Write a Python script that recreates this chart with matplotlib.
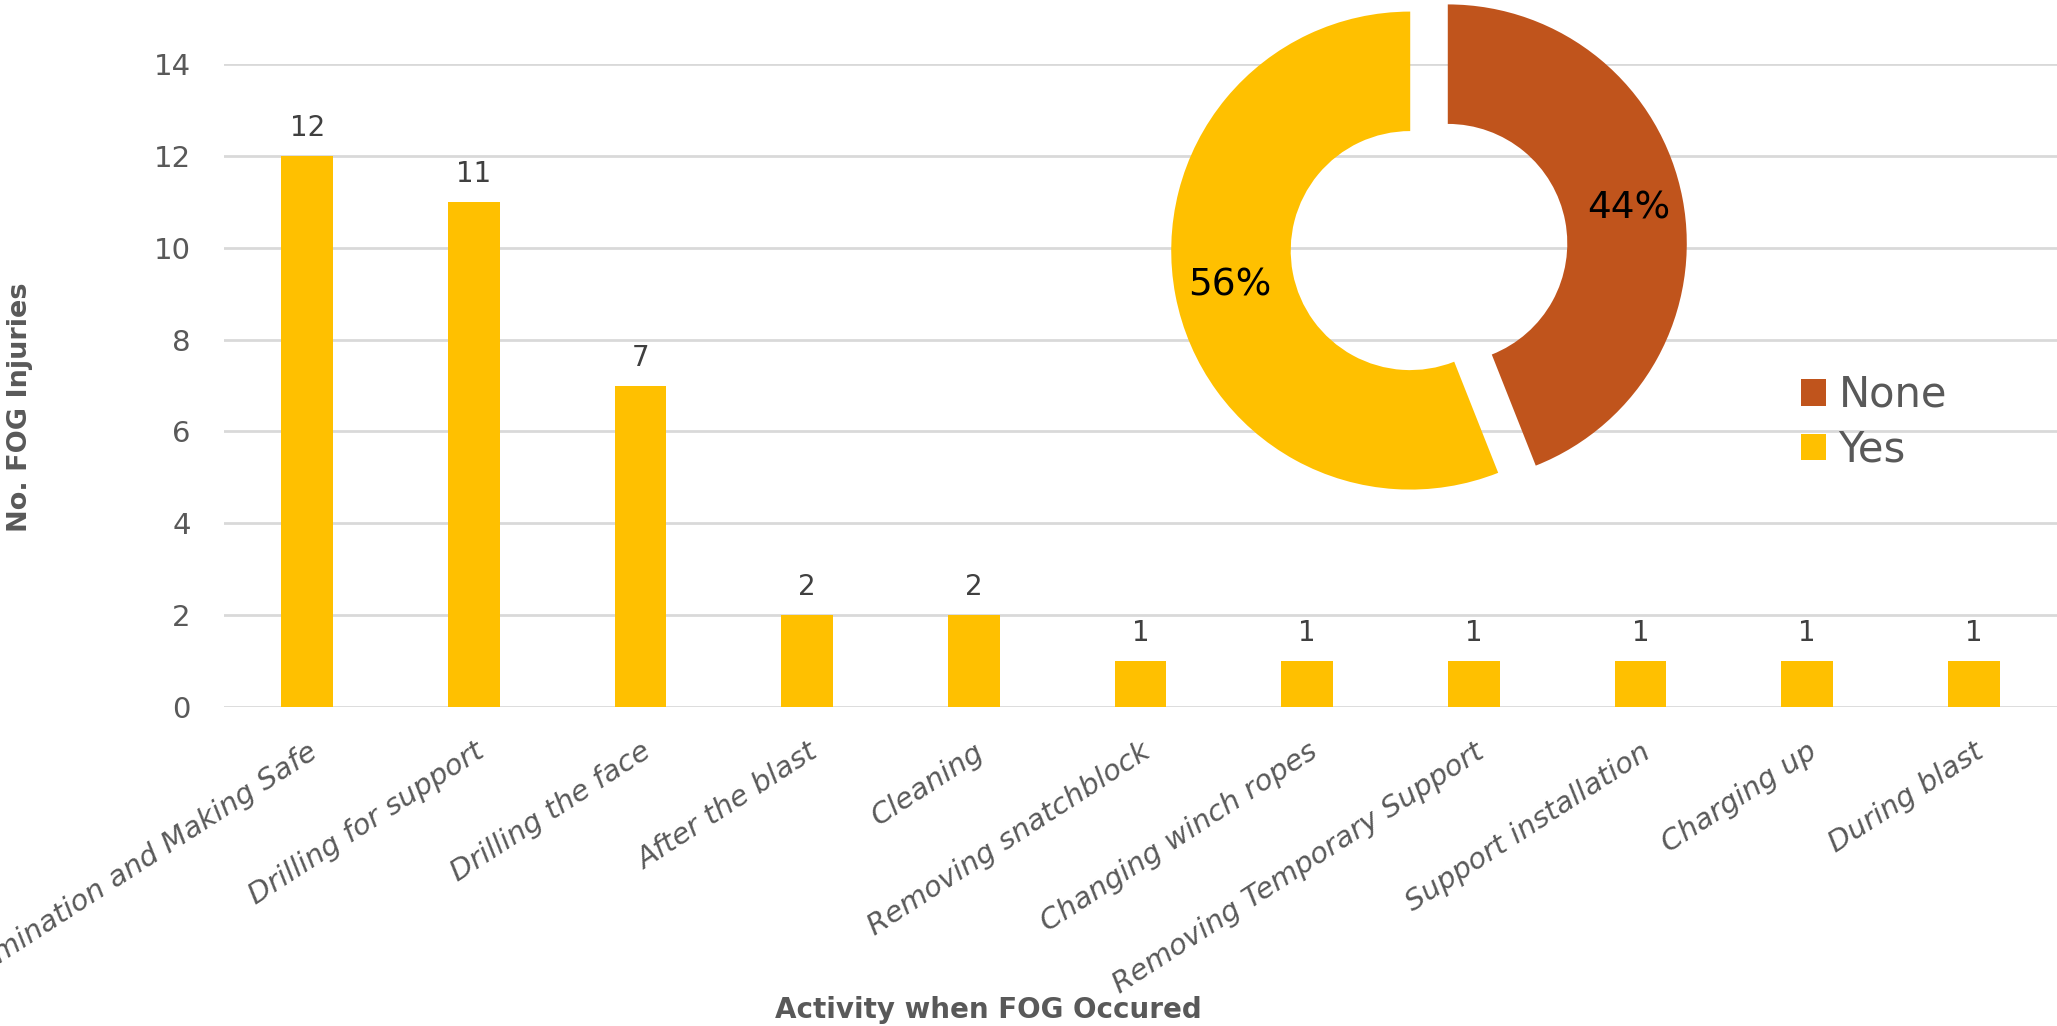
import matplotlib.pyplot as plt

# data
activities = ["Examination and Making Safe", "Drilling for support", "Drilling the face",
              "After the blast", "Cleaning", "Removing snatchblock", "Changing winch ropes",
              "Removing Temporary Support", "Support installation", "Charging up", "During blast"]
injuries = [12, 11, 7, 2, 2, 1, 1, 1, 1, 1, 1]

pie_labels = ["None", "Yes"]
pie_values = [44, 56]

YELLOW = "#FFC000"
ORANGE = "#C0541C"
GRAY = "#595959"

plt.rcParams['font.family'] = ['DejaVu Sans']

W, H = 2057, 1026
fig = plt.figure(figsize=(W / 100, H / 100), dpi=100)

# bar chart
ax = fig.add_axes([224 / W, 1 - 707 / H, (W - 224) / W, (707 - 64) / H])
x = range(len(activities))
bars = ax.bar(x, injuries, width=0.31, color=YELLOW, zorder=2)
ax.bar_label(bars, labels=[str(v) for v in injuries], padding=10, fontsize=20, color="#404040")
ax.set_xlim(-0.5, len(activities) - 0.5)
ax.set_ylim(0, 14)
ax.set_yticks(range(0, 15, 2))
ax.yaxis.grid(True, color="#D9D9D9", linewidth=2, zorder=0)
ax.set_axisbelow(True)
for s in ax.spines.values():
    s.set_visible(False)
ax.tick_params(axis="both", length=0, colors=GRAY, labelsize=21)
ax.tick_params(axis="y", pad=24)
ax.set_xticks(list(x))
ax.set_xticklabels(activities, rotation=33, ha="right", rotation_mode="anchor",
                   fontstyle="italic", fontsize=21, color=GRAY)
ax.tick_params(axis="x", pad=22)

fig.text(20 / W, 1 - 407 / H, "No. FOG Injuries", rotation=90, ha="center", va="center",
         fontsize=19.5, fontweight="bold", color=GRAY)
fig.text(988 / W, 1 - 1010 / H, "Activity when FOG Occured", ha="center", va="center",
         fontsize=20, fontweight="bold", color=GRAY)

# donut
cx, cy, r = 1429, 247, 239
L = 1.2
S = 2 * L * r
ax2 = fig.add_axes([(cx - S / 2) / W, 1 - (cy + S / 2) / H, S / W, S / H])
wedges, texts, autotexts = ax2.pie(
    pie_values, colors=[ORANGE, YELLOW], startangle=90, counterclock=False,
    explode=[0.08, 0.08], wedgeprops=dict(width=0.5), autopct="%d%%", pctdistance=0.77,
    textprops=dict(fontsize=27, color="black"))
ax2.set_xlim(-L, L)
ax2.set_ylim(-L, L)
ax2.axis("off")

fig.legend(wedges, pie_labels, loc="upper left", bbox_to_anchor=(1801 / W, 1 - 374 / H),
           frameon=False, fontsize=30, handlelength=0.6, handleheight=0.6,
           handletextpad=0.3, labelspacing=0.3, borderpad=0, borderaxespad=0,
           labelcolor=GRAY)

fig.savefig("out.png", dpi=100)
